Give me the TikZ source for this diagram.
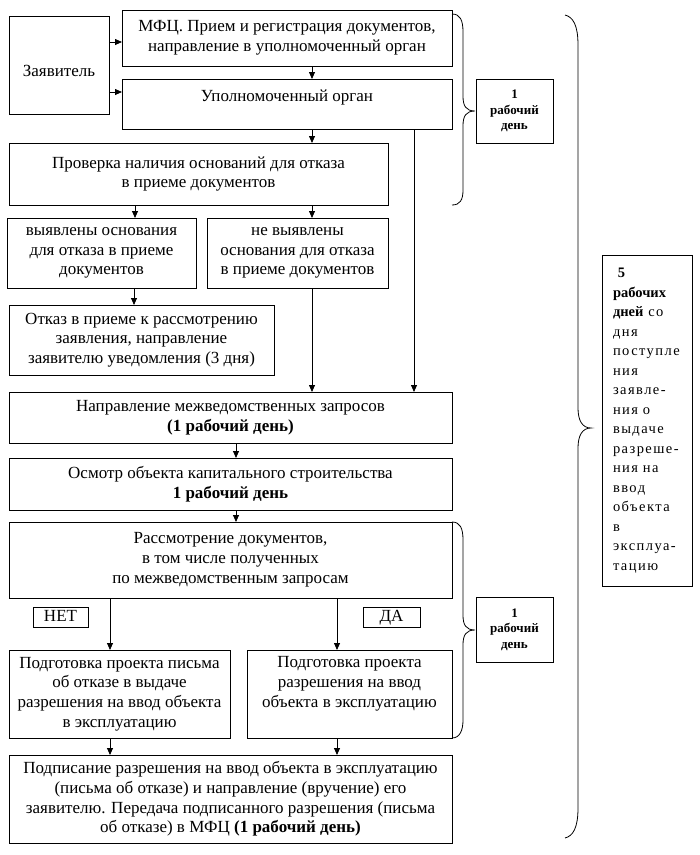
\documentclass[tikz,border=0pt]{standalone}
\usepackage{fontspec}
\setmainfont{Liberation Serif}
\usetikzlibrary{arrows.meta}
\newcommand{\tightbf}[1]{\textbf{\addfontfeatures{LetterSpace=0}#1}}
\tikzset{
  box/.style={draw, line width=0.9pt, anchor=north west, align=center, inner sep=2pt, outer sep=0pt,
    font=\fontsize{17}{19.8}\selectfont},
  smallbox/.style={draw, line width=0.9pt, anchor=north west, align=center, inner sep=2pt, outer sep=0pt,
    font=\bfseries\fontsize{13}{15.5}\selectfont},
  tagbox/.style={box, inner ysep=0pt, text height=12pt, text depth=4pt},
  arr/.style={-{Triangle[length=7pt,width=6pt]}, line width=0.8pt},
  bracestyle/.style={line width=0.8pt},
}
\begin{document}
\begin{tikzpicture}[x=1pt,y=-1pt]
\useasboundingbox (0,0) rectangle (700,855);
% boxes
\node[box, minimum width=100pt, minimum height=98pt, text height=24pt] (zayav) at (9,16) {Заявитель};
\node[box, minimum width=330pt, minimum height=56pt] (mfc) at (122,10) {МФЦ. Прием и регистрация документов,\\направление в уполномоченный орган};
\node[box, minimum width=330pt, minimum height=50pt, text depth=16pt] (upol) at (122,79) {Уполномоченный орган};
\node[box, minimum width=379pt, minimum height=62pt] (prov) at (9,143) {Проверка наличия оснований для отказа\\в приеме документов};
\node[box, minimum width=189pt, minimum height=70pt] (vyyav) at (7,218) {выявлены основания\\для отказа в приеме\\документов};
\node[box, minimum width=181pt, minimum height=70pt] (nevyyav) at (207,218) {не выявлены\\основания для отказа\\в приеме документов};
\node[box, minimum width=265pt, minimum height=70pt] (otkaz) at (9,305) {Отказ в приеме к рассмотрению\\заявления, направление\\заявителю уведомления (3 дня)};
\node[box, minimum width=443pt, minimum height=51pt] (napr) at (9,392) {Направление межведомственных запросов\\\textbf{(1 рабочий день)}};
\node[box, minimum width=443pt, minimum height=52pt] (osm) at (9,458) {Осмотр объекта капитального строительства\\\textbf{1 рабочий день}};
\node[box, minimum width=443pt, minimum height=76pt] (rassm) at (9,522) {Рассмотрение документов,\\в том числе полученных\\по межведомственным запросам};
\node[tagbox, minimum width=55pt, minimum height=20pt] (net) at (33,607) {НЕТ};
\node[tagbox, minimum width=57pt, minimum height=20pt] (da) at (363,607) {ДА};
\node[box, minimum width=221pt, minimum height=88pt] (podgL) at (9,650) {Подготовка проекта письма\\об отказе в выдаче\\разрешения на ввод объекта\\в эксплуатацию};
\node[box, minimum width=205pt, minimum height=88pt, text depth=24pt] (podgR) at (247,650) {Подготовка проекта\\разрешения на ввод\\объекта в эксплуатацию};
\node[box, minimum width=443pt, minimum height=88pt] (podp) at (9,755) {Подписание разрешения на ввод объекта в эксплуатацию\\(письма об отказе) и направление (вручение) его\\заявителю. Передача подписанного разрешения (письма\\об отказе) в МФЦ \textbf{(1 рабочий день)}};
\node[smallbox, minimum width=77pt, minimum height=64pt] (day1) at (476,79) {1\\рабочий\\день};
\node[smallbox, minimum width=77pt, minimum height=65pt] (day2) at (476,597) {1\\рабочий\\день};
\node[box, minimum width=90pt, minimum height=331pt, align=left, text width=68pt, inner xsep=11pt,
  font=\fontsize{14.5}{19.5}\selectfont\addfontfeatures{LetterSpace=10}] (five) at (602,255)
  {\tightbf{\ 5}\\\tightbf{рабочих}\\\tightbf{дней} со\\дня\\поступле\\ния\\заявле-\\ния о\\выдаче\\разреше-\\ния на\\ввод\\объекта\\в\\эксплуа-\\тацию};
% connectors
\draw[arr] (zayav.east |- 0,42) -- (mfc.west |- 0,42);
\draw[arr] (zayav.east |- 0,92) -- (upol.west |- 0,92);
\draw[arr] (mfc.south -| 312,0) -- (upol.north -| 312,0);
\draw[arr] (upol.south -| 312,0) -- (prov.north -| 312,0);
\draw[arr] (prov.south -| 135,0) -- (vyyav.north -| 135,0);
\draw[arr] (prov.south -| 312,0) -- (nevyyav.north -| 312,0);
\draw[arr] (vyyav.south -| 134,0) -- (otkaz.north -| 134,0);
\draw[arr] (nevyyav.south -| 312,0) -- (napr.north -| 312,0);
\draw[arr] (upol.south -| 414,0) -- (napr.north -| 414,0);
\draw[arr] (napr.south -| 236,0) -- (osm.north -| 236,0);
\draw[arr] (osm.south -| 236,0) -- (rassm.north -| 236,0);
\draw[arr] (rassm.south -| 110,0) -- (podgL.north -| 110,0);
\draw[arr] (rassm.south -| 337,0) -- (podgR.north -| 337,0);
\draw[arr] (podgL.south -| 110,0) -- (podp.north -| 110,0);
\draw[arr] (podgR.south -| 337,0) -- (podp.north -| 337,0);
% braces
\draw[bracestyle] (452,14) .. controls (460,14) and (463,20) .. (463,32) -- (463,96)
  .. controls (463,106) and (466,111) .. (475,111)
  .. controls (466,111) and (463,116) .. (463,126) -- (463,190)
  .. controls (463,200) and (460,205) .. (452,205);
\draw[bracestyle] (452,522) .. controls (460,522) and (463,528) .. (463,540) -- (463,615)
  .. controls (463,625) and (466,630) .. (475,630)
  .. controls (466,630) and (463,635) .. (463,645) -- (463,720)
  .. controls (463,730) and (460,738) .. (452,738);
\draw[bracestyle] (565,15) .. controls (573,17) and (578,25) .. (578,45) -- (578,408)
  .. controls (578,420) and (582,428) .. (591,428)
  .. controls (582,428) and (578,436) .. (578,448) -- (578,808)
  .. controls (578,828) and (573,836) .. (565,838);
\end{tikzpicture}
\end{document}
